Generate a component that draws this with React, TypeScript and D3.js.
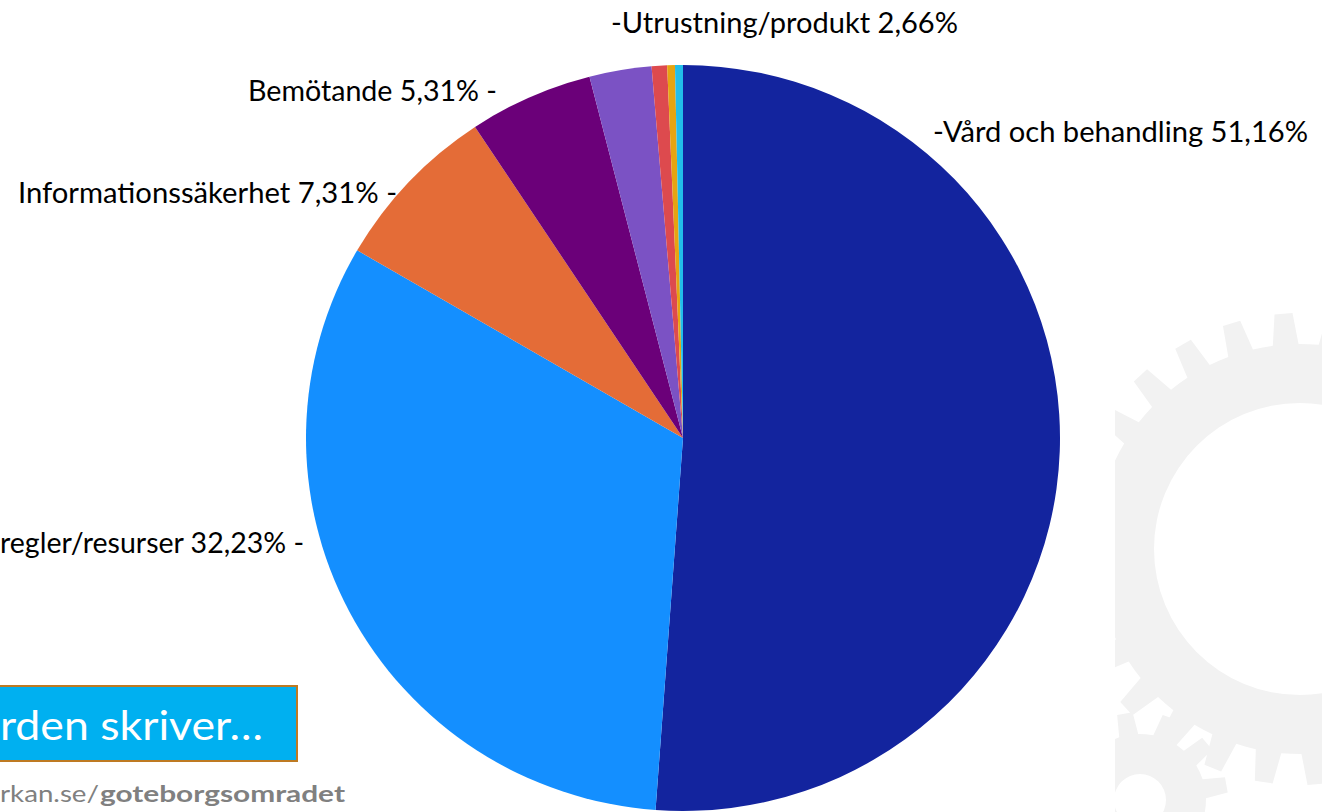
import React from "react";
import * as d3 from "d3";

const categories = [
  "Vård och behandling",
  "Rutiner/regler/resurser",
  "Informationssäkerhet",
  "Bemötande",
  "Utrustning/produkt",
  "Övrigt A",
  "Övrigt B",
  "Övrigt C",
];
const values = [51.16, 32.23, 7.31, 5.31, 2.66, 0.66, 0.33, 0.34];
const colors = ["#13249E", "#148FFF", "#E46C37", "#6B0079", "#7B52C4", "#DD4A4E", "#E6A411", "#22BEEA"];

const labelTexts = [
  "-Vård och behandling 51,16%",
  "regler/resurser 32,23% -",
  "Informationssäkerhet 7,31% -",
  "Bemötande 5,31% -",
  "-Utrustning/produkt 2,66%",
];
// x, baseline y, anchor, width
const labelPos: [number, number, string, number][] = [
  [933, 142, "start", 375],
  [304, 553, "end", 304],
  [397, 203, "end", 379],
  [497, 101, "end", 249],
  [611, 33, "start", 347],
];

function gearPath(cx: number, cy: number, rTip: number, rRoot: number, teeth: number, rot: number) {
  const p = d3.path();
  const step = (Math.PI * 2) / teeth;
  for (let i = 0; i < teeth; i++) {
    const a = rot + i * step;
    const pts: [number, number][] = [
      [a - step * 0.5, rRoot],
      [a - step * 0.28, rRoot],
      [a - step * 0.17, rTip],
      [a + step * 0.17, rTip],
      [a + step * 0.28, rRoot],
    ];
    pts.forEach(([ang, r], j) => {
      const x = cx + r * Math.sin(ang);
      const y = cy - r * Math.cos(ang);
      if (i === 0 && j === 0) p.moveTo(x, y);
      else p.lineTo(x, y);
    });
  }
  p.closePath();
  return p.toString();
}

export default function App() {
  const W = 1322;
  const H = 812;
  const cx = 683;
  const cy = 438;
  const rx = 377;
  const ry = 373;
  const pie = d3.pie<number>().sort(null).value((d) => d);
  const arcs = pie(values);
  const arc = d3.arc<d3.PieArcDatum<number>>().innerRadius(0).outerRadius(rx);

  return (
    <svg width={W} height={H} style={{ position: "absolute", left: 0, top: 0 }}>
      <rect x={0} y={0} width={W} height={H} fill="#FFFFFF" />
      <defs>
        <clipPath id="gearclip">
          <rect x={1115} y={0} width={W - 1115} height={H} />
        </clipPath>
      </defs>
      <g clipPath="url(#gearclip)" fill="#F2F2F2">
        <path
          fillRule="evenodd"
          d={
            gearPath(1300, 549, 236, 205, 28, -0.07) +
            `M${1300 + 146},549 A146,146 0 1,0 ${1300 - 146},549 A146,146 0 1,0 ${1300 + 146},549 Z`
          }
        />
        <path
          fillRule="evenodd"
          d={
            gearPath(1140, 800, 88, 66, 12, 0.35) +
            `M${1140 + 26},800 A26,26 0 1,0 ${1140 - 26},800 A26,26 0 1,0 ${1140 + 26},800 Z`
          }
        />
      </g>
      <g transform={`translate(${cx},${cy}) scale(1,${ry / rx})`}>
        {arcs.map((a, i) => (
          <path key={categories[i]} d={arc(a) || ""} fill={colors[i]} />
        ))}
      </g>
      <g fontFamily="Lato, 'Open Sans', sans-serif" fontSize={28} fill="#000">
        {labelTexts.map((t, i) => (
          <text
            key={t}
            x={labelPos[i][0]}
            y={labelPos[i][1]}
            textAnchor={labelPos[i][2] as any}
            textLength={labelPos[i][3]}
            lengthAdjust="spacingAndGlyphs"
          >
            {t}
          </text>
        ))}
      </g>
      <rect x={-4} y={686} width={301} height={75} fill="#00B0F0" stroke="#BE7A22" strokeWidth={2} />
      <text
        x={0}
        y={740}
        fontFamily="Lato, 'Open Sans', sans-serif"
        fontSize={40}
        fill="#FFFFFF"
        textLength={263}
        lengthAdjust="spacingAndGlyphs"
      >
        rden skriver…
      </text>
      <g fontFamily="Lato, 'Open Sans', sans-serif" fontSize={23} fill="#808080">
        <text x={0} y={802} textLength={99} lengthAdjust="spacingAndGlyphs">
          rkan.se/
        </text>
        <text x={100} y={802} fontWeight="bold" textLength={245} lengthAdjust="spacingAndGlyphs">
          goteborgsomradet
        </text>
      </g>
    </svg>
  );
}
